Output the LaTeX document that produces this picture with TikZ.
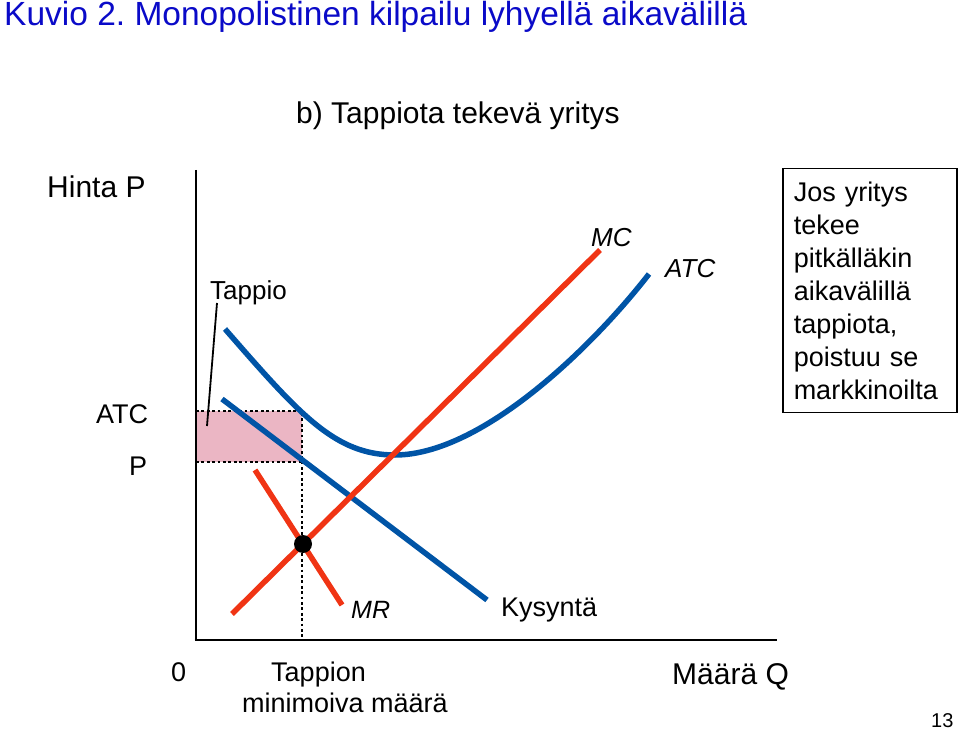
\documentclass[tikz,border=0pt]{standalone}
\usepackage{fontspec}
\setmainfont{Liberation Sans}
\definecolor{titleblue}{RGB}{10,10,200}
\definecolor{curveblue}{RGB}{0,84,166}
\definecolor{curvered}{RGB}{240,52,20}
\definecolor{losspink}{RGB}{235,182,196}
\tikzset{
  lbl/.style={inner sep=0pt, anchor=base west, font=\fontsize{27}{33}\selectfont},
  lblbig/.style={inner sep=0pt, anchor=base west, font=\fontsize{30}{36}\selectfont},
  bluecurve/.style={draw=curveblue, line width=5.5pt},
  redcurve/.style={draw=curvered, line width=5.5pt},
  axisline/.style={draw=black, line width=2.6pt},
  dotline/.style={draw=black, line width=2.8pt, dash pattern=on 2.8pt off 2.6pt}
}
\frenchspacing
\begin{document}
\begin{tikzpicture}[x=1pt,y=-1pt]
\useasboundingbox (0,0) rectangle (959,730);
% titles
\node[inner sep=0pt, anchor=base west, font=\fontsize{33.5}{40}\selectfont, text=titleblue] (title) at (4,26) {Kuvio 2. Monopolistinen kilpailu lyhyellä aikavälillä};
\node[lblbig] (sub) at (296,124) {b) Tappiota tekevä yritys};
% coordinates
\coordinate (O) at (196,640);
\coordinate (ytop) at (196,170);
\coordinate (xend) at (777,640);
\coordinate (rtl) at (196,411);
\coordinate (rtr) at (302,411);
\coordinate (rbl) at (196,462);
\coordinate (rbr) at (302,462);
\coordinate (qax) at (302,640);
% loss rectangle
\fill[losspink] (rtl) rectangle (rbr);
\draw[dotline] (rtl) -- (rtr) -- (qax);
\draw[dotline] (rbl) -- (rbr);
% axes
\draw[axisline] (ytop) -- ([yshift=1.3pt]O) ;
\draw[axisline] ([xshift=-1.3pt]O) -- (xend);
% curves
\coordinate (atcA) at (225,329);
\coordinate (atcM) at (395,455);
\coordinate (atcB) at (649,274);
\draw[bluecurve] (atcA) .. controls (300,415) and (335,455) .. (atcM) .. controls (480,455) and (590,350) .. (atcB);
\coordinate (dA) at (222,399);
\coordinate (dB) at (487,600);
\draw[bluecurve] (dA) -- (dB);
\coordinate (mrA) at (255,470);
\coordinate (mrB) at (342,605);
\draw[redcurve] (mrA) -- (mrB);
\coordinate (mcA) at (232,614);
\coordinate (mcB) at (600,250);
\draw[redcurve] (mcA) -- (mcB);
\fill[black] (303,544) circle (9pt) coordinate (eq);
% curve labels
\node[lbl, font=\fontsize{26}{30}\selectfont\itshape] (mclbl) at (591,247) {MC};
\node[lbl, font=\fontsize{26}{30}\selectfont\itshape] (atclbl) at (665,278) {ATC};
\node[lbl, font=\fontsize{25}{30}\selectfont\itshape] (mrlbl) at (351,618) {MR};
\node[lbl] (kys) at (501,616) {Kysyntä};
\node[lbl, font=\fontsize{26}{30}\selectfont] (tappio) at (210,299) {Tappio};
\coordinate (tpA) at (217,303);
\coordinate (tpB) at (207,426);
\draw[black, line width=1.8pt] (tpA) -- (tpB);
% axis labels
\node[lblbig] (hinta) at (47,198) {Hinta P};
\node[lbl] (atcax) at (96,423) {ATC};
\node[lbl] (pax) at (129,475) {P};
\node[lbl] (zero) at (171,681) {0};
\node[lbl] (tappion) at (271,681) {Tappion};
\node[lbl] (minim) at (242,712) {minimoiva määrä};
\node[lblbig] (maara) at (672,684) {Määrä Q};
\node[inner sep=0pt, anchor=base west, font=\fontsize{20}{22}\selectfont] (pnum) at (931,727) {13};
% info box
\node[draw=black, line width=1.5pt, anchor=north west, align=left, text width=152pt, inner xsep=11pt, inner ysep=13pt, font=\fontsize{27}{33}\selectfont] (box) at (782,168) {Jos yritys\\tekee\\pitkälläkin\\aikavälillä\\tappiota,\\poistuu se\\markkinoilta};
\end{tikzpicture}
\end{document}
